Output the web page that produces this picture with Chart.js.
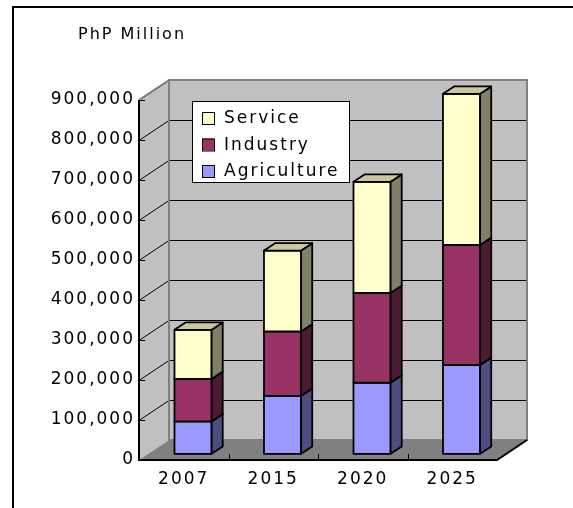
<!DOCTYPE html>
<html>
<head>
<meta charset="utf-8">
<script src="https://cdn.jsdelivr.net/npm/chart.js@4.4.1/dist/chart.umd.min.js"></script>
<style>
    html, body { margin: 0; padding: 0; background: #fff; }
</style>
</head>
<body>
<canvas id="grafico" width="573" height="508"></canvas>
<script>
'use strict';
// DADOS DO GRAFICO
const anos = ['2007', '2015', '2020', '2025'];
const agricultura = [81000, 145000, 178000, 222000];
const industria = [106000, 161000, 224000, 300000];
const servicos = [123000, 202000, 278000, 378000];
const ticksY = [0, 100000, 200000, 300000, 400000, 500000, 600000, 700000, 800000, 900000];
const unidade = 'PhP Million';

const fonte = 'DejaVu Sans';
// profundidade das paredes e posicao das barras na profundidade
const DX = 30, DY = -20;
const F1 = 0.31, F2 = 0.68;

const cena3d = {
    id: 'cena3d',
    beforeDraw(chart) {
        const ctx = chart.ctx;
        ctx.letterSpacing = '2px';
        ctx.save();
        ctx.fillStyle = '#ffffff';
        ctx.fillRect(0, 0, chart.width, chart.height);
        // moldura
        ctx.strokeStyle = '#000';
        ctx.lineWidth = 2;
        ctx.beginPath();
        ctx.moveTo(13, chart.height);
        ctx.lineTo(13, 7);
        ctx.lineTo(chart.width, 7);
        ctx.stroke();
        // titulo
        ctx.fillStyle = '#000';
        ctx.font = '16px "' + fonte + '"';
        ctx.textBaseline = 'middle';
        ctx.fillText(unidade, 78, 35);
        ctx.restore();
    },
    beforeDatasetsDraw(chart) {
        const ctx = chart.ctx;
        const {left, right} = chart.chartArea;
        const y = chart.scales.y, x = chart.scales.x;
        const y0 = y.getPixelForValue(y.min), yM = y.getPixelForValue(y.max);
        ctx.save();

        // parede lateral
        ctx.fillStyle = '#c0c0c0';
        ctx.beginPath();
        ctx.moveTo(left, yM);
        ctx.lineTo(left + DX, yM + DY);
        ctx.lineTo(left + DX, y0 + DY);
        ctx.lineTo(left, y0);
        ctx.closePath();
        ctx.fill();
        // parede do fundo
        ctx.fillRect(left + DX, yM + DY, right - left, y0 - yM);
        // chao
        ctx.fillStyle = '#808080';
        ctx.beginPath();
        ctx.moveTo(left, y0);
        ctx.lineTo(right, y0);
        ctx.lineTo(right + DX, y0 + DY);
        ctx.lineTo(left + DX, y0 + DY);
        ctx.closePath();
        ctx.fill();

        // linhas de grade
        ctx.strokeStyle = '#000';
        ctx.lineWidth = 1;
        y.ticks.forEach(t => {
            if (t.value === y.min) return;
            const py = Math.round(y.getPixelForValue(t.value)) + 0.5;
            ctx.beginPath();
            ctx.moveTo(left + DX, py + DY);
            ctx.lineTo(right + DX, py + DY);
            ctx.moveTo(left, py);
            ctx.lineTo(left + DX, py + DY);
            ctx.moveTo(left, py);
            ctx.lineTo(left + 6, py);
            ctx.stroke();
        });

        // bordas das paredes
        ctx.strokeStyle = '#808080';
        ctx.lineWidth = 2;
        ctx.strokeRect(left + DX, yM + DY, right - left, y0 - yM);
        ctx.beginPath();
        ctx.moveTo(left, yM);
        ctx.lineTo(left + DX, yM + DY);
        ctx.stroke();

        // eixos
        ctx.strokeStyle = '#000';
        ctx.lineWidth = 2;
        ctx.beginPath();
        ctx.moveTo(left, yM);
        ctx.lineTo(left, y0);
        ctx.lineTo(right, y0);
        ctx.lineTo(right + DX, y0 + DY);
        ctx.stroke();
        ctx.lineWidth = 1;
        for (let i = 1; i < anos.length; i++) {
            const bx = Math.round((x.getPixelForValue(i - 1) + x.getPixelForValue(i)) / 2) + 0.5;
            ctx.beginPath();
            ctx.moveTo(bx, y0);
            ctx.lineTo(bx, y0 - 6);
            ctx.stroke();
        }

        // legenda
        ctx.fillStyle = '#fff';
        ctx.fillRect(192, 101, 157, 81);
        ctx.strokeStyle = '#000';
        ctx.lineWidth = 1;
        ctx.strokeRect(192.5, 101.5, 157, 81);
        ctx.font = '17px "' + fonte + '"';
        ctx.textBaseline = 'middle';
        const itens = chart.data.datasets.slice().reverse();
        itens.forEach((ds, i) => {
            const cy = 118 + i * 26.5;
            ctx.fillStyle = ds.backgroundColor;
            ctx.fillRect(202, cy - 6, 12, 12);
            ctx.strokeRect(202.5, cy - 5.5, 12, 12);
            ctx.fillStyle = '#000';
            ctx.fillText(ds.label, 224, cy + 1);
        });

        // barras 3d
        const ddx = DX * (F2 - F1), ddy = DY * (F2 - F1);
        ctx.lineWidth = 1.8;
        ctx.lineJoin = 'round';
        ctx.strokeStyle = '#000';
        chart.data.datasets.forEach((ds, i) => {
            const meta = chart.getDatasetMeta(i);
            meta.data.forEach(bar => {
                const p = bar.getProps(['x', 'y', 'base', 'width'], true);
                const x0 = p.x - p.width / 2 + DX * F1;
                const x1 = p.x + p.width / 2 + DX * F1;
                const yt = p.y + DY * F1;
                const yb = p.base + DY * F1;
                // frente
                ctx.fillStyle = ds.backgroundColor;
                ctx.fillRect(x0, yt, x1 - x0, yb - yt);
                ctx.strokeRect(x0, yt, x1 - x0, yb - yt);
                // lado
                ctx.fillStyle = ds.corLado;
                ctx.beginPath();
                ctx.moveTo(x1, yb);
                ctx.lineTo(x1 + ddx, yb + ddy);
                ctx.lineTo(x1 + ddx, yt + ddy);
                ctx.lineTo(x1, yt);
                ctx.closePath();
                ctx.fill();
                ctx.stroke();
                // topo
                ctx.fillStyle = ds.corTopo;
                ctx.beginPath();
                ctx.moveTo(x0, yt);
                ctx.lineTo(x1, yt);
                ctx.lineTo(x1 + ddx, yt + ddy);
                ctx.lineTo(x0 + ddx, yt + ddy);
                ctx.closePath();
                ctx.fill();
                ctx.stroke();
            });
        });
        ctx.restore();
        return false;
    }
};

const ctx = document.getElementById('grafico').getContext('2d');
const grafico = new Chart(ctx, {
    type: 'bar',
    plugins: [cena3d],
    data: {
        labels: anos,
        datasets: [
            { label: 'Agriculture', data: agricultura, backgroundColor: '#9999ff', corLado: '#4d4d80', corTopo: '#7878c8' },
            { label: 'Industry', data: industria, backgroundColor: '#993366', corLado: '#4d1a33', corTopo: '#7a2952' },
            { label: 'Service', data: servicos, backgroundColor: '#ffffcc', corLado: '#808066', corTopo: '#c8c89e' }
        ]
    },
    options: {
        responsive: false,
        animation: false,
        devicePixelRatio: 1,
        layout: { padding: { top: 100, right: 76, left: 0, bottom: 0 } },
        datasets: { bar: { categoryPercentage: 1, barPercentage: 0.415 } },
        scales: {
            x: {
                stacked: true,
                grid: { display: false, drawTicks: false },
                border: { display: false },
                afterFit: s => { s.height = 48; },
                ticks: { color: '#000', padding: 9, font: { family: fonte, size: 17 } }
            },
            y: {
                stacked: true,
                min: 0,
                max: 900000,
                grid: { display: false, drawTicks: false },
                border: { display: false },
                afterFit: s => { s.width = 139; },
                afterBuildTicks: s => { s.ticks = ticksY.map(v => ({ value: v })); },
                ticks: {
                    color: '#000',
                    padding: 4,
                    font: { family: fonte, size: 17 },
                    callback: v => v.toLocaleString('en-US')
                }
            }
        },
        plugins: {
            legend: { display: false },
            tooltip: { enabled: false }
        }
    }
});
</script>
</body>
</html>
